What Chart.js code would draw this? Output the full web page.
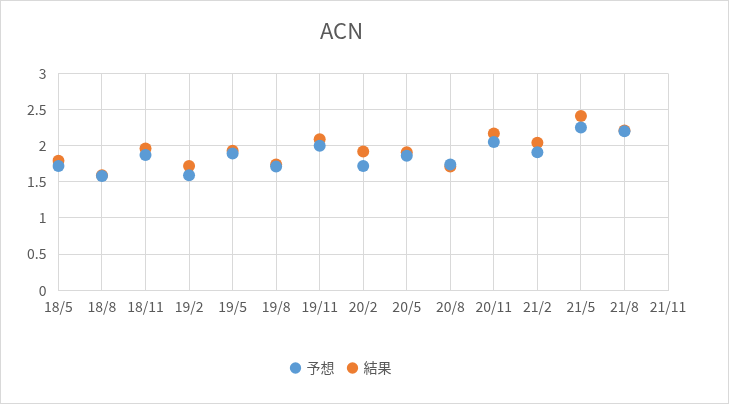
<!DOCTYPE html>
<html><head><meta charset="utf-8">
<script src="https://cdn.jsdelivr.net/npm/chart.js@4"></script>
<style>
body{margin:0;background:#fff}
#wrap{width:727px;height:402px;border:1px solid #d9d9d9;position:relative}
</style></head>
<body><div id="wrap"><canvas id="c"></canvas></div>
<script>
const labels = ['18/5','18/8','18/11','19/2','19/5','19/8','19/11','20/2','20/5','20/8','20/11','21/2','21/5','21/8','21/11'];
const forecast = [1.72,1.58,1.87,1.59,1.89,1.71,2.0,1.72,1.86,1.74,2.05,1.91,2.25,2.2,null];
const result = [1.79,1.59,1.96,1.72,1.93,1.74,2.09,1.92,1.91,1.71,2.17,2.04,2.41,2.21,null];

const font = "'Noto Sans CJK JP', 'Liberation Sans', sans-serif";
new Chart(document.getElementById('c'), {
  type: 'line',
  data: {
    labels,
    datasets: [
      { label: '予想', data: forecast, showLine: false, pointRadius: 6, pointHoverRadius: 6,
        backgroundColor: '#5B9BD5', borderColor: '#5B9BD5', pointBorderWidth: 0 },
      { label: '結果', data: result, showLine: false, pointRadius: 6, pointHoverRadius: 6,
        backgroundColor: '#ED7D31', borderColor: '#ED7D31', pointBorderWidth: 0 }
    ]
  },
  options: {
    responsive: true, maintainAspectRatio: false, animation: false,
    layout: { padding: { left: 14, right: 60, top: 16, bottom: 18 } },
    plugins: {
      title: { display: true, text: 'ACN', color: '#595959', font: { family: font, size: 22, weight: 'normal' }, padding: { bottom: 30 } },
      legend: { position: 'bottom', labels: { usePointStyle: true, pointStyle: 'circle', boxWidth: 8, boxHeight: 8, color: '#595959', font: { family: font, size: 14 }, padding: 14 } },
      tooltip: { enabled: false }
    },
    scales: {
      x: { offset: false, grid: { color: '#d9d9d9', drawTicks: false }, border: { color: '#d9d9d9' },
           ticks: { color: '#595959', font: { family: font, size: 14 }, maxRotation: 0, autoSkip: false, padding: 8 },
           afterFit: s => { s.height += 24; } },
      y: { min: 0, max: 3, grid: { color: '#d9d9d9', drawTicks: false }, border: { display: false },
           ticks: { stepSize: 0.5, color: '#595959', font: { family: font, size: 14 }, padding: 12, callback: v => String(v) } }
    }
  }
});
</script></body></html>
